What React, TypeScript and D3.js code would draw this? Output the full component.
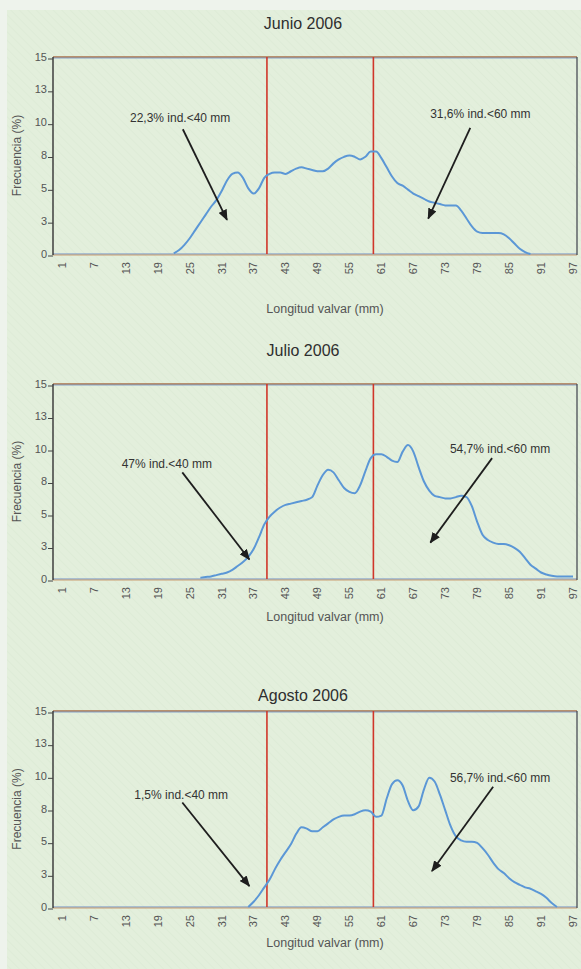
import React from "react";
import * as d3 from "d3";

// size classes (mm) shown on the x axis
const xTickValues = [1, 7, 13, 19, 25, 31, 37, 43, 49, 55, 61, 67, 73, 79, 85, 91, 97];
const yTickValues = [0, 2.5, 5, 7.5, 10, 12.5, 15];
const yTickLabels = ["0", "3", "5", "8", "10", "13", "15"];
const limits = [39.5, 59.5]; // 40 mm and 60 mm marks

const titles = ["Junio 2006", "Julio 2006", "Agosto 2006"];
const leftNotes = ["22,3% ind.<40 mm", "47% ind.<40 mm", "1,5% ind.<40 mm"];
const rightNotes = ["31,6% ind.<60 mm", "54,7% ind.<60 mm", "56,7% ind.<60 mm"];

// frequency (%) per mm, starting at the given length
const junioStart = 22;
const junioValues = [
  0.05, 0.3, 0.7, 1.2, 1.8, 2.4, 3.0, 3.6, 4.1, 4.8,
  5.6, 6.1, 6.2, 5.8, 5.0, 4.6, 5.0, 5.8, 6.1, 6.2,
  6.2, 6.1, 6.3, 6.5, 6.6, 6.5, 6.4, 6.3, 6.3, 6.5,
  6.9, 7.2, 7.4, 7.5, 7.4, 7.2, 7.4, 7.8, 7.8, 7.3,
  6.6, 5.9, 5.4, 5.2, 4.9, 4.6, 4.4, 4.2, 4.0, 3.9,
  3.8, 3.7, 3.7, 3.7, 3.3, 2.7, 2.1, 1.7, 1.6, 1.6,
  1.6, 1.6, 1.5, 1.2, 0.8, 0.4, 0.15, 0,
];

const julioStart = 27;
const julioValues = [
  0.1, 0.15, 0.2, 0.3, 0.4, 0.5, 0.7, 1.0, 1.3, 1.7,
  2.3, 3.2, 4.2, 4.8, 5.2, 5.5, 5.7, 5.8, 5.9, 6.0,
  6.1, 6.3, 7.2, 8.0, 8.4, 8.2, 7.6, 7.0, 6.7, 6.6,
  7.2, 8.3, 9.3, 9.6, 9.6, 9.4, 9.1, 9.0, 9.8, 10.3,
  9.8, 8.6, 7.5, 6.8, 6.4, 6.3, 6.2, 6.2, 6.3, 6.4,
  6.3, 5.6, 4.4, 3.4, 3.0, 2.8, 2.7, 2.7, 2.6, 2.4,
  2.1, 1.6, 1.1, 0.8, 0.5, 0.35, 0.25, 0.2, 0.2, 0.2,
  0.2,
];

const agostoStart = 36;
const agostoValues = [
  0, 0.4, 0.9, 1.5, 2.1, 2.9, 3.6, 4.2, 4.8, 5.6,
  6.1, 6.0, 5.8, 5.8, 6.1, 6.4, 6.7, 6.9, 7.0, 7.0,
  7.1, 7.3, 7.4, 7.3, 6.9, 7.0, 8.3, 9.4, 9.7, 9.3,
  8.1, 7.4, 7.7, 9.0, 9.9, 9.6, 8.6, 7.4, 6.2, 5.4,
  5.1, 5.0, 5.0, 4.9, 4.5, 4.0, 3.4, 2.9, 2.6, 2.2,
  1.9, 1.7, 1.5, 1.4, 1.2, 1.0, 0.7, 0.3, 0,
];

const starts = [junioStart, julioStart, agostoStart];
const series = [junioValues, julioValues, agostoValues];

// layout of each panel (pixels), arrows in data units
const layout = [
  {
    top: 57, bottom: 254, titleY: 29, xLabelY: 313,
    left: { text: [23.2, 10.4], from: [23.7, 9.5], to: [32, 2.6] },
    right: { text: [79.6, 10.7], from: [77.7, 9.6], to: [69.8, 2.7] },
  },
  {
    top: 384, bottom: 579, titleY: 356, xLabelY: 621,
    left: { text: [20.7, 8.9], from: [23.6, 8.2], to: [36.2, 1.5] },
    right: { text: [83.3, 10.0], from: [81.8, 9.3], to: [70.2, 2.8] },
  },
  {
    top: 711, bottom: 907, titleY: 701, xLabelY: 947,
    left: { text: [23.4, 8.6], from: [23.6, 8.0], to: [36.2, 1.6] },
    right: { text: [83.3, 9.9], from: [82, 9.2], to: [70.5, 2.75] },
  },
];

const W = 581;
const H = 969;
const plotLeft = 53;
const plotRight = 577;
const font = "'Liberation Sans', Arial, sans-serif";

function Panel({ i }) {
  const lay = layout[i];
  const x = d3.scaleLinear().domain([1, 97]).range([plotLeft + 9, plotRight - 4]);
  const y = d3.scaleLinear().domain([0, 15]).range([lay.bottom, lay.top]);
  const pts = series[i].map((v, k) => [starts[i] + k, v]);
  const path = d3
    .line()
    .x((d) => x(d[0]))
    .y((d) => y(d[1]))
    .curve(d3.curveMonotoneX)(pts);

  const notes = [
    { label: leftNotes[i], geo: lay.left },
    { label: rightNotes[i], geo: lay.right },
  ];

  return (
    <g>
      <text x={303} y={lay.titleY} textAnchor="middle" fontSize={16} fill="#2e2e2e" fontFamily={font}>
        {titles[i]}
      </text>

      {/* frame */}
      <line x1={plotLeft} x2={plotRight} y1={lay.top} y2={lay.top} stroke="#a8704a" strokeWidth={1.3} />
      <line x1={plotLeft} x2={plotRight} y1={lay.top + 1} y2={lay.top + 1} stroke="#6f8fc4" strokeWidth={0.8} />
      <line x1={plotLeft} x2={plotRight} y1={lay.bottom} y2={lay.bottom} stroke="#6f8fc4" strokeWidth={1} />
      <line x1={plotLeft} x2={plotRight} y1={lay.bottom + 1} y2={lay.bottom + 1} stroke="#c68a55" strokeWidth={0.8} />
      <line x1={plotRight} x2={plotRight} y1={lay.top} y2={lay.bottom + 1} stroke="#4a4e55" strokeWidth={1.3} />

      {/* limits */}
      {limits.map((l) => (
        <line key={l} x1={x(l)} x2={x(l)} y1={lay.top} y2={lay.bottom} stroke="#d0362a" strokeWidth={1.6} />
      ))}

      <path d={path} fill="none" stroke="#5b97d6" strokeWidth={2} />

      {/* y axis */}
      <line x1={plotLeft} x2={plotLeft} y1={lay.top} y2={lay.bottom + 1} stroke="#333" strokeWidth={1.4} />
      {yTickValues.map((t, k) => (
        <g key={t} transform={`translate(0,${y(t)})`}>
          <line x1={plotLeft - 5} x2={plotLeft} y1={2} y2={2} stroke="#444" strokeWidth={1} />
          <text x={plotLeft - 6} dy="0.33em" textAnchor="end" fontSize={11} fill="#555" fontFamily={font}>
            {yTickLabels[k]}
          </text>
        </g>
      ))}
      <text
        transform={`translate(17,${(lay.top + lay.bottom) / 2}) rotate(-90)`}
        textAnchor="middle"
        dy="0.35em"
        fontSize={12}
        fill="#555"
        fontFamily={font}
      >
        Frecuencia (%)
      </text>

      {/* x axis */}
      {xTickValues.map((t) => (
        <text
          key={t}
          transform={`translate(${x(t)},${lay.bottom + 8}) rotate(-90)`}
          textAnchor="end"
          dy="0.35em"
          fontSize={11}
          fill="#555"
          fontFamily={font}
        >
          {t}
        </text>
      ))}
      <text x={325} y={lay.xLabelY} textAnchor="middle" fontSize={12.5} fill="#555" fontFamily={font}>
        Longitud valvar (mm)
      </text>

      {/* annotations */}
      {notes.map((n, k) => (
        <g key={k}>
          <text
            x={x(n.geo.text[0])}
            y={y(n.geo.text[1])}
            dy="0.35em"
            textAnchor="middle"
            fontSize={12}
            fill="#333"
            fontFamily={font}
          >
            {n.label}
          </text>
          <line
            x1={x(n.geo.from[0])}
            y1={y(n.geo.from[1])}
            x2={x(n.geo.to[0])}
            y2={y(n.geo.to[1])}
            stroke="#1e1e1e"
            strokeWidth={1.8}
            markerEnd="url(#arrowHead)"
          />
        </g>
      ))}
    </g>
  );
}

export default function App() {
  return (
    <div style={{ position: "absolute", left: 0, top: 0 }}>
      <svg width={W} height={H} style={{ display: "block" }}>
        <defs>
          <marker
            id="arrowHead"
            markerUnits="userSpaceOnUse"
            markerWidth={11}
            markerHeight={9}
            refX={10}
            refY={4.5}
            orient="auto"
          >
            <path d="M0,0 L11,4.5 L0,9 z" fill="#1e1e1e" />
          </marker>
          <pattern id="scan" width={6} height={6} patternUnits="userSpaceOnUse" patternTransform="rotate(-45)">
            <line x1={0} y1={0} x2={0} y2={6} stroke="#d6e6cf" strokeWidth={1.5} />
          </pattern>
        </defs>
        <rect width={W} height={H} fill="#e3efdc" />
        <rect width={W} height={H} fill="url(#scan)" opacity={0.5} />
        <rect width={7} height={H} fill="#eef3ec" />
        <rect width={W} height={10} fill="#eef3ec" />
        {[0, 1, 2].map((i) => (
          <Panel key={i} i={i} />
        ))}
      </svg>
    </div>
  );
}
